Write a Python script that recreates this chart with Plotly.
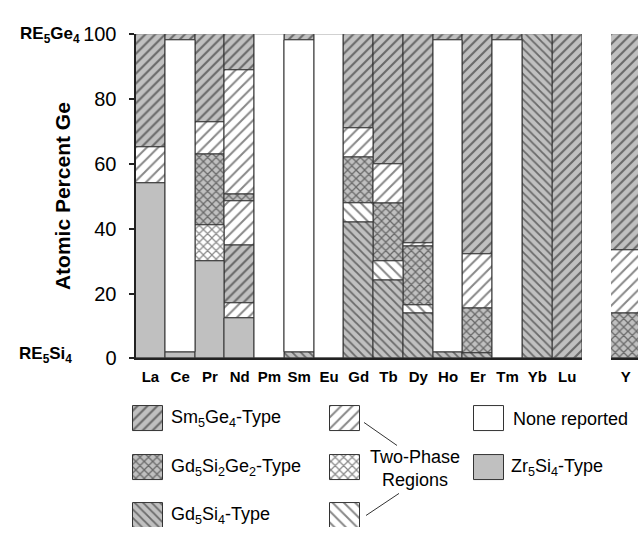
import plotly.graph_objects as go

# ---------------- data ----------------
elements = ["La", "Ce", "Pr", "Nd", "Pm", "Sm", "Eu", "Gd", "Tb", "Dy", "Ho", "Er", "Tm", "Yb", "Lu"]
side_element = ["Y"]

# upper boundary (atomic % Ge) of each stacked segment, bottom to top
segment_tops = [
    [54, 65, 100],                      # La
    [2, 98, 100],                       # Ce
    [30, 41, 63, 73, 100],              # Pr
    [12.5, 17, 35, 48.5, 50.5, 89, 100],  # Nd
    [100],                              # Pm
    [2, 98, 100],                       # Sm
    [100],                              # Eu
    [42, 48, 62, 71, 100],              # Gd
    [24, 30, 48, 60, 100],              # Tb
    [14, 16.5, 34.5, 35.5, 100],        # Dy
    [2, 98, 100],                       # Ho
    [1.5, 15.5, 32, 100],               # Er
    [98, 100],                          # Tm
    [100],                              # Yb
    [100],                              # Lu
]
segment_phases = [
    ["Zr", "TP1", "Sm"],
    ["Zr", "None", "Sm"],
    ["Zr", "TP2", "G2", "TP1", "Sm"],
    ["Zr", "TP1", "Sm", "TP1", "G2", "TP1", "Sm"],
    ["None"],
    ["G4", "None", "Sm"],
    ["None"],
    ["G4", "TP3", "G2", "TP1", "Sm"],
    ["G4", "TP3", "G2", "TP1", "Sm"],
    ["G4", "TP3", "G2", "TP1", "Sm"],
    ["G4", "None", "Sm"],
    ["G4", "G2", "TP1", "Sm"],
    ["None", "Sm"],
    ["G4"],
    ["Sm"],
]
side_tops = [[14, 33.5, 100]]
side_phases = [["G2", "TP1", "Sm"]]

tick_values = [0, 20, 40, 60, 80, 100]

# ---------------- styles ----------------
W, H = 638, 538
GRAY = "#c0c0c0"
EDGE = "#333333"
FONT = "Liberation Sans, Arial, sans-serif"

styles = {
    "Sm":   dict(bg=GRAY, shape="/", size=7, sol=0.3),
    "G2":   dict(bg=GRAY, shape="x", size=6, sol=0.38),
    "G4":   dict(bg=GRAY, shape="\\", size=6, sol=0.3),
    "TP1":  dict(bg="white", shape="/", size=8, sol=0.25),
    "TP2":  dict(bg="white", shape="x", size=6, sol=0.36),
    "TP3":  dict(bg="white", shape="\\", size=8, sol=0.25),
    "Zr":   dict(bg=GRAY, shape="", size=8, sol=0.3),
    "None": dict(bg="white", shape="", size=8, sol=0.3),
}


def marker_for(key):
    s = styles[key]
    return dict(
        color=s["bg"],
        line=dict(color=EDGE, width=1),
        pattern=dict(shape=s["shape"], fgcolor="#111111", bgcolor=s["bg"],
                     size=s["size"], solidity=s["sol"], fillmode="overlay"),
    )


def px_x(p):
    return p / W


def px_y(p):
    return 1 - p / H


fig = go.Figure()


def add_panel(cats, tops, phases, xa, ya):
    for key in styles:
        xs, bases, hs = [], [], []
        for cat, t, ph in zip(cats, tops, phases):
            lo = 0
            for top, p in zip(t, ph):
                if p == key:
                    xs.append(cat)
                    bases.append(lo)
                    hs.append(top - lo)
                lo = top
        if xs:
            fig.add_trace(go.Bar(x=xs, y=hs, base=bases, xaxis=xa, yaxis=ya,
                                 marker=marker_for(key), hoverinfo="skip",
                                 showlegend=False))


add_panel(elements, segment_tops, segment_phases, "x", "y")
add_panel(side_element, side_tops, side_phases, "x2", "y2")

# ---------------- legend swatches (own hidden axes in pixel units) ----------------
legend_swatches = [
    ("Sm", 148, 412), ("G2", 148, 463), ("G4", 148, 513),
    ("TP1", 344.5, 412), ("TP2", 344.5, 463), ("TP3", 344.5, 513),
    ("None", 489, 412), ("Zr", 489, 463),
]
for key, cx, top in legend_swatches:
    fig.add_trace(go.Bar(x=[cx], y=[26], base=[top], width=[30],
                         xaxis="x3", yaxis="y3", marker=marker_for(key),
                         hoverinfo="skip", showlegend=False))

y_dom = [px_y(362.3), px_y(24.3)]
axis_common = dict(showgrid=False, zeroline=False)

fig.update_layout(
    width=W, height=H,
    margin=dict(l=0, r=0, t=0, b=0),
    paper_bgcolor="white", plot_bgcolor="white",
    barmode="overlay", bargap=0,
    showlegend=False,
    xaxis=dict(domain=[px_x(135.5), px_x(582)], range=[-0.5, 14.5], type="category",
               categoryorder="array", categoryarray=elements,
               showline=True, linecolor="#222", linewidth=2, ticks="",
               tickfont=dict(family=FONT, size=15, color="black", weight="bold"),
               ticklabelstandoff=4, fixedrange=True, **axis_common),
    yaxis=dict(domain=y_dom, range=[0, 100], tickvals=tick_values,
               showline=True, linecolor="#222", linewidth=2,
               ticks="outside", ticklen=5, tickwidth=2, tickcolor="#222",
               tickfont=dict(family=FONT, size=20, color="black"),
               ticklabelstandoff=8, fixedrange=True, **axis_common),
    xaxis2=dict(domain=[px_x(611), 1], range=[-0.5, 0.41], type="category",
                categoryorder="array", categoryarray=side_element,
                anchor="y2", showline=True, linecolor="#222", linewidth=2, ticks="",
                tickfont=dict(family=FONT, size=15, color="black", weight="bold"),
                ticklabelstandoff=4, fixedrange=True, **axis_common),
    yaxis2=dict(domain=y_dom, range=[0, 100], anchor="x2", visible=False, **axis_common),
    xaxis3=dict(domain=[0, 1], range=[0, W], anchor="y3", visible=False, **axis_common),
    yaxis3=dict(domain=[0, px_y(390)], range=[H, 390], anchor="x3", visible=False,
                **axis_common),
)

ann = []
ann.append(dict(text="RE<sub>5</sub>Ge<sub>4</sub>", x=px_x(82), y=px_y(25),
                xanchor="right", yanchor="middle",
                font=dict(family=FONT, size=17, color="black", weight="bold")))
ann.append(dict(text="RE<sub>5</sub>Si<sub>4</sub>", x=px_x(74), y=px_y(359),
                xanchor="right", yanchor="middle",
                font=dict(family=FONT, size=17, color="black", weight="bold")))
ann.append(dict(text="Atomic Percent Ge", x=px_x(62.5), y=px_y(193.5), textangle=-90,
                xanchor="center", yanchor="middle",
                font=dict(family=FONT, size=21, color="black", weight="bold")))

legend_texts = [
    ("Sm<sub>5</sub>Ge<sub>4</sub>-Type", 169, 425),
    ("Gd<sub>5</sub>Si<sub>2</sub>Ge<sub>2</sub>-Type", 169, 476),
    ("Gd<sub>5</sub>Si<sub>4</sub>-Type", 169, 526),
    ("None reported", 511, 425),
    ("Zr<sub>5</sub>Si<sub>4</sub>-Type", 509, 476),
]
for t, x, y in legend_texts:
    ann.append(dict(text=t, x=px_x(x), y=px_y(y), xanchor="left", yanchor="middle",
                    font=dict(family=FONT, size=18, color="black")))
ann.append(dict(text="Two-Phase<br>Regions", x=px_x(414.5), y=px_y(477),
                xanchor="center", yanchor="middle", align="center",
                font=dict(family=FONT, size=18, color="black")))
for a in ann:
    a.update(xref="paper", yref="paper", showarrow=False)
fig.update_layout(annotations=ann)

fig.update_layout(shapes=[
    dict(type="line", xref="paper", yref="paper", x0=px_x(364), y0=px_y(429),
         x1=px_x(397), y1=px_y(453), line=dict(color="#333", width=1)),
    dict(type="line", xref="paper", yref="paper", x0=px_x(366), y0=px_y(526),
         x1=px_x(399), y1=px_y(503), line=dict(color="#333", width=1)),
])

fig.write_html("out.html")
